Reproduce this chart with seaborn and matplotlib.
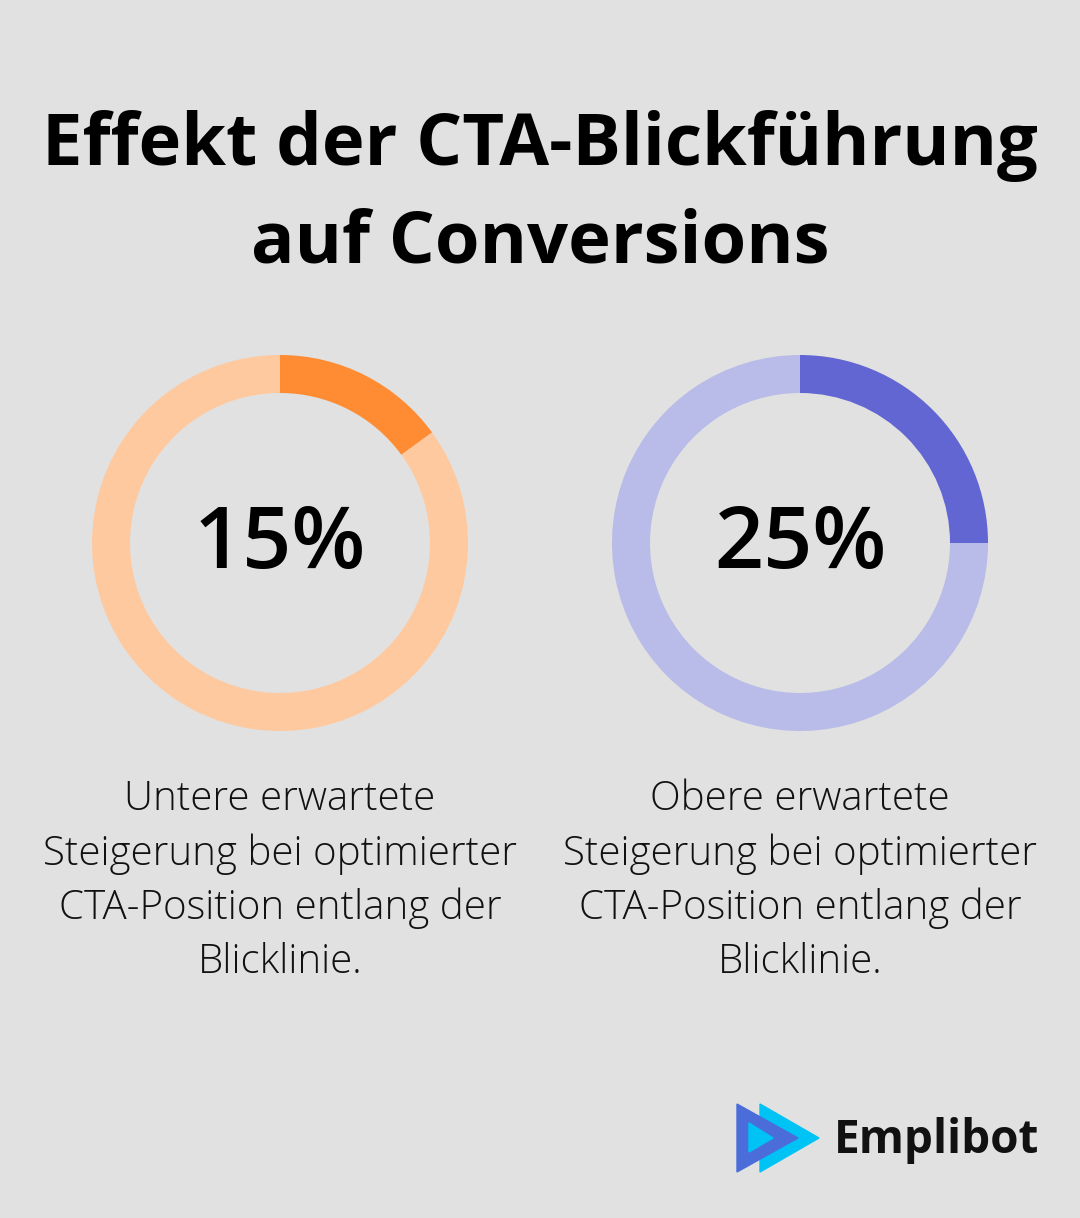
import matplotlib.pyplot as plt
import seaborn as sns
from matplotlib.patches import Polygon

# data
values = [15, 25]
labels = ["15%", "25%"]
descriptions = [
    "Untere erwartete\nSteigerung bei optimierter\nCTA-Position entlang der\nBlicklinie.",
    "Obere erwartete\nSteigerung bei optimierter\nCTA-Position entlang der\nBlicklinie.",
]
main_colors = ["#FF8C33", "#6266D2"]
light_colors = ["#FFC9A0", "#B9BBE8"]
title = "Effekt der CTA-Blickführung\nauf Conversions"

bg = "#E0E1E0"
sns.set_style("white")
plt.rcParams["font.family"] = ["Open Sans", "DejaVu Sans"]

W, H = 1080, 1218
fig = plt.figure(figsize=(W / 100, H / 100), dpi=100, facecolor=bg)

fig.text(0.5, 1 - 195 / H, title, ha="center", va="center", fontsize=52,
         fontweight="bold", color="#000000", linespacing=1.46)

centers_x = [280, 800]
cy, r, ring = 543, 188, 38
for i, v in enumerate(values):
    cx = centers_x[i]
    ax = fig.add_axes([(cx - r) / W, 1 - (cy + r) / H, 2 * r / W, 2 * r / H])
    ax.set_facecolor(bg)
    ax.pie([v, 100 - v], colors=[main_colors[i], light_colors[i]], startangle=90,
           counterclock=False, radius=1, wedgeprops=dict(width=ring / r, linewidth=0))
    ax.set_xlim(-1, 1)
    ax.set_ylim(-1, 1)
    ax.set_aspect("equal")
    ax.axis("off")
    fig.text(cx / W, 1 - 546 / H, labels[i], ha="center", va="center",
             fontsize=62, fontweight="semibold", color="#000000")
    fig.text(cx / W, 1 - 881 / H, descriptions[i], ha="center", va="center",
             fontsize=29, fontweight="light", color="#111111", linespacing=1.41)

# logo
def px(pts):
    return [(x / W, 1 - y / H) for x, y in pts]

fig.patches.append(Polygon(px([(760, 1104), (760, 1172), (819, 1138)]),
                           closed=True, color="#00C3F5", transform=fig.transFigure))
fig.patches.append(Polygon(px([(737, 1104), (737, 1172), (798, 1138)]),
                           closed=True, color="#4B6DDA", transform=fig.transFigure))
fig.patches.append(Polygon(px([(749, 1123), (749, 1152), (773, 1138)]),
                           closed=True, color="#00C3F5", transform=fig.transFigure))
fig.text(834 / W, 1 - 1140 / H, "Emplibot", ha="left", va="center", fontsize=33,
         fontweight="bold", color="#111111")

fig.savefig("out.png", dpi=100, facecolor=bg)
